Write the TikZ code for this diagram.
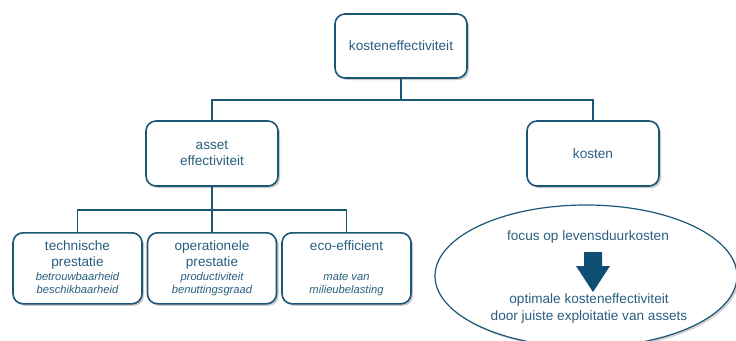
\documentclass[tikz,border=0pt]{standalone}
\usepackage{fontspec}
\setmainfont{Liberation Sans}
\usetikzlibrary{shadows,shapes.geometric,arrows.meta}
\definecolor{dblue}{HTML}{1B5677}
\definecolor{tblue}{HTML}{2A5F80}
\definecolor{ablue}{HTML}{0F4F73}
\newcommand{\subtxt}[1]{{\fontsize{11.2}{13}\selectfont\itshape #1}}
\tikzset{
  rbox/.style={draw=dblue, line width=1.6pt, rounded corners=10pt, fill=white,
    drop shadow={shadow xshift=2pt, shadow yshift=-2pt, opacity=0.35, fill=black!60},
    text=tblue, align=center, font=\fontsize{13.6}{16}\selectfont},
  conn/.style={draw=dblue, line width=1.6pt},
  etxt/.style={text=tblue, font=\fontsize{13.6}{17}\selectfont, align=center}
}
\begin{document}
\begin{tikzpicture}[x=1pt,y=-1pt]
\useasboundingbox (0,0) rectangle (736,340);
% ellipse
\node[ellipse, draw=dblue, line width=1.2pt, fill=white, minimum width=302pt, minimum height=142pt,
  drop shadow={shadow xshift=2pt, shadow yshift=-2pt, opacity=0.3, fill=black!60}] (ell) at (586,276) {};
\node[etxt] (foc) at (588,237) {focus op levensduurkosten};
\node[etxt] (opt) at (589,308) {optimale kosteneffectiviteit\\door juiste exploitatie van assets};
\fill[ablue] (584,252) -- (602,252) -- (602,266) -- (610,266) -- (593,292) -- (576,266) -- (584,266) -- cycle;

% boxes
\node[rbox, minimum width=132pt, minimum height=64pt] (top) at (401,46) {kosteneffectiviteit};
\node[rbox, minimum width=132pt, minimum height=65pt] (ae) at (212,153.5) {asset\\effectiviteit};
\node[rbox, minimum width=132pt, minimum height=65pt] (ko) at (593,153.5) {kosten};
\node[rbox, minimum width=129pt, minimum height=71pt, anchor=north] (tp) at (77.5,232)
  {\begin{tabular}{@{}c@{}}technische\\prestatie\\[-2pt]\subtxt{betrouwbaarheid}\\[-3pt]\subtxt{beschikbaarheid}\end{tabular}};
\node[rbox, minimum width=129pt, minimum height=71pt, anchor=north] (op) at (212,232)
  {\begin{tabular}{@{}c@{}}operationele\\prestatie\\[-2pt]\subtxt{productiviteit}\\[-3pt]\subtxt{benuttingsgraad}\end{tabular}};
\node[rbox, minimum width=129pt, minimum height=71pt, anchor=north] (eco) at (346.5,232)
  {\begin{tabular}{@{}c@{}}eco-efficient\\ \\[-2pt]\subtxt{mate van}\\[-3pt]\subtxt{milieubelasting}\end{tabular}};

% connectors
\coordinate (j1) at (401,100);
\coordinate (j2) at (212,210);
\draw[conn] (top.south) -- (j1);
\draw[conn] (ae.north) |- (j1) -| (ko.north);
\draw[conn] (ae.south) -- (j2);
\draw[conn] (tp.north) |- (j2) -| (eco.north);
\draw[conn] (j2) -- (op.north);
\end{tikzpicture}
\end{document}
